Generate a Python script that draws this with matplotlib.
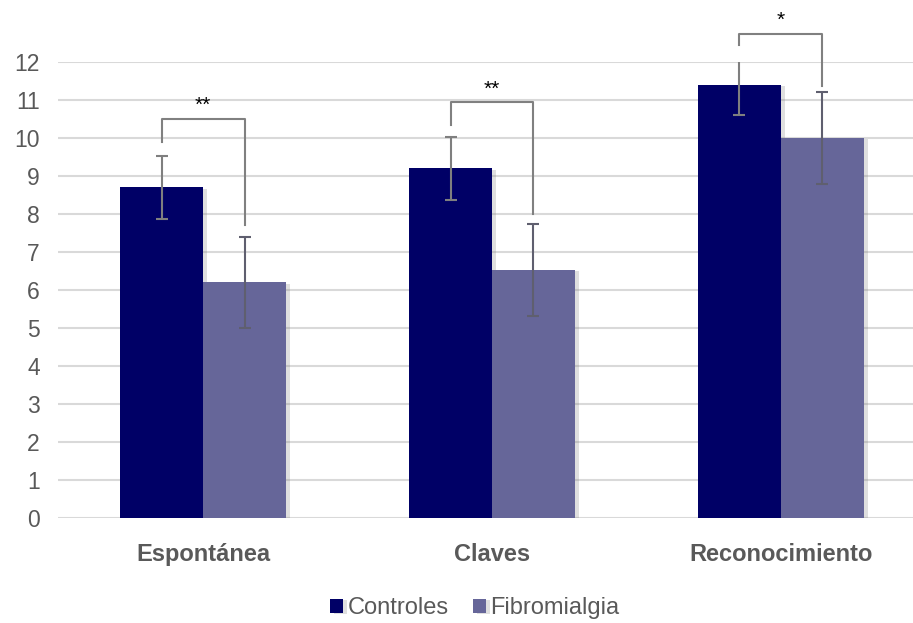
import numpy as np
import matplotlib.pyplot as plt
import matplotlib.patheffects as pe

# datos
categorias = ['Espontánea', 'Claves', 'Reconocimiento']
controles = [8.7, 9.2, 11.4]
controles_err = [0.83, 0.83, 0.8]
fibro = [6.2, 6.53, 10.0]
fibro_err = [1.2, 1.22, 1.2]

# corchetes de significacion: altura arriba, fin pierna izq, fin pierna der
corchete_top = [10.5, 10.94, 12.75]
corchete_izq = [9.9, 10.35, 12.45]
corchete_der = [7.71, 8.0, 11.37]
estrellas = ['**', '**', '*']

plt.rcParams['font.family'] = ['Liberation Sans', 'DejaVu Sans']

fig = plt.figure(figsize=(9.13, 6.23), dpi=100)
ax = fig.add_axes([58/913, 105/623, 855/913, 456/623])

x = np.arange(len(categorias))
w = 0.287
sombra = [pe.SimplePatchShadow(offset=(3, -1), alpha=0.25, shadow_rgbFace='gray'), pe.Normal()]

b1 = ax.bar(x - w/2, controles, w, color='#000066', label='Controles', zorder=3)
b2 = ax.bar(x + w/2, fibro, w, color='#666699', label='Fibromialgia', zorder=3)
for b in list(b1) + list(b2):
    b.set_path_effects(sombra)

ax.errorbar(x - w/2, controles, yerr=controles_err, fmt='none', ecolor='#7f7f7f',
            elinewidth=1.5, capsize=4.5, capthick=1.5, zorder=4)
ax.errorbar(x + w/2, fibro, yerr=fibro_err, fmt='none', ecolor='#5f5f6f',
            elinewidth=1.5, capsize=4.5, capthick=1.5, zorder=4)

for i in range(len(categorias)):
    xl = x[i] - w/2
    xr = x[i] + w/2
    ax.plot([xl, xl, xr, xr], [corchete_izq[i], corchete_top[i], corchete_top[i], corchete_der[i]],
            color='#808080', lw=1.5, clip_on=False, zorder=5)
    ax.text(x[i], corchete_top[i] + 0.1, estrellas[i], ha='center', va='bottom',
            fontsize=15, color='black', clip_on=False)

ax.set_ylim(0, 12)
ax.set_xlim(-0.502, 2.457)
ax.set_yticks(range(0, 13))
ax.yaxis.grid(True, color='#d9d9d9', lw=1.5, zorder=0)
ax.set_axisbelow(True)
for s in ax.spines.values():
    s.set_visible(False)
ax.tick_params(axis='y', length=0, labelsize=16.5, labelcolor='#595959', pad=13)
ax.tick_params(axis='x', length=0, labelsize=17, labelcolor='#595959', pad=18)
ax.set_xticks(x)
ax.set_xticklabels(categorias, fontweight='bold')

fig.legend(loc='center', bbox_to_anchor=(0.52, 0.024), ncol=2, frameon=False,
           fontsize=17, handlelength=0.55, handleheight=0.55, handletextpad=0.2,
           columnspacing=1.0, labelcolor='#595959')

fig.savefig('out.png', dpi=100)
